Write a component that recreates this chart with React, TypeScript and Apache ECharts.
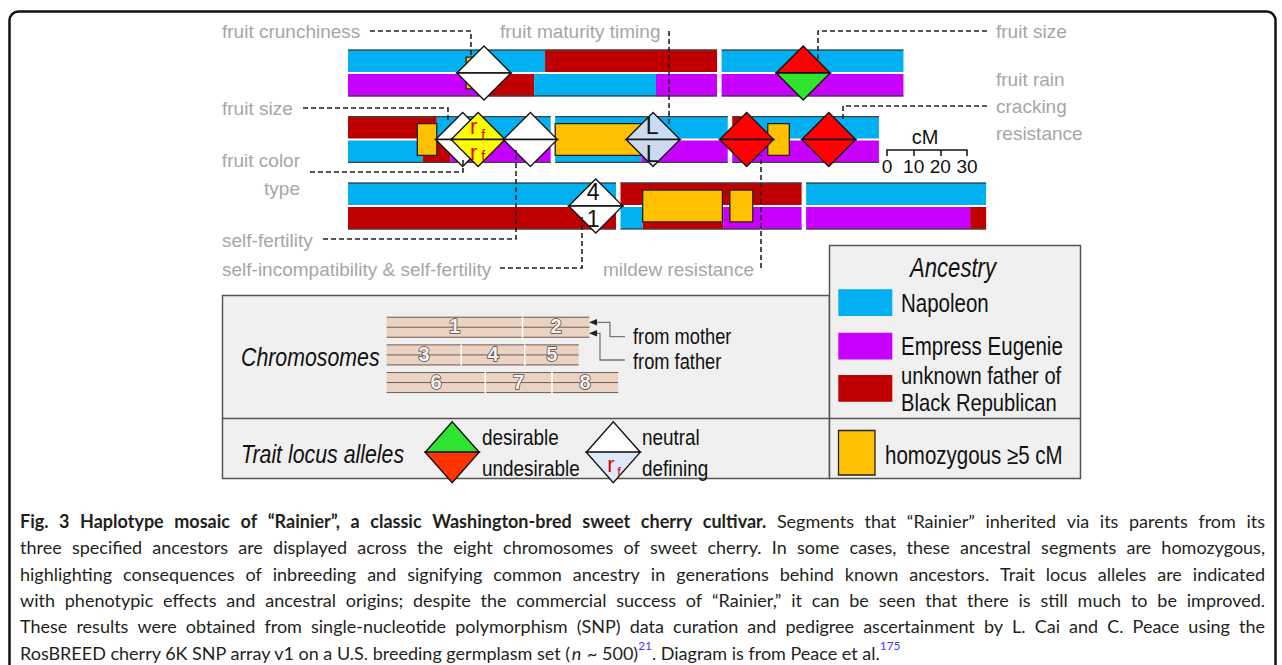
import React, { useEffect, useRef } from 'react';
import * as echarts from 'echarts';

// ---------------- data ----------------
const chromosomes = ['1', '2', '3', '4', '5', '6', '7', '8'];
const chromosomeLengthsCM = [138.4, 68.2, 76.0, 64.7, 55.0, 100.5, 67.9, 67.5];
const chromosomeRow = [0, 0, 1, 1, 1, 2, 2, 2];

const ancestors = ['Napoleon', 'Empress Eugenie', 'unknown father of Black Republican'];

// [chromosome index, start cM, end cM, ancestor index]
const motherSegments = [
  [0, 0, 73.9, 0], [0, 73.9, 138.4, 2],
  [1, 0, 68.2, 0],
  [2, 0, 33.3, 2], [2, 33.3, 76.0, 0],
  [3, 0, 64.7, 0],
  [4, 0, 3.5, 2], [4, 3.5, 55.0, 0],
  [5, 0, 100.5, 0],
  [6, 0, 67.9, 2],
  [7, 0, 67.5, 0],
];
const fatherSegments = [
  [0, 0, 50.3, 1], [0, 50.3, 69.8, 2], [0, 69.8, 115.5, 0], [0, 115.5, 138.4, 1],
  [1, 0, 68.2, 1],
  [2, 0, 28.0, 0], [2, 28.0, 38.3, 2], [2, 38.3, 76.0, 1],
  [3, 0, 32.3, 0], [3, 32.3, 64.7, 1],
  [4, 0, 55.0, 1],
  [5, 0, 100.5, 2],
  [6, 0, 8.3, 0], [6, 8.3, 38.5, 2], [6, 38.5, 67.9, 1],
  [7, 0, 61.5, 1], [7, 61.5, 67.5, 2],
];
// [chromosome index, start cM, end cM]
const homozygousBlocks = [
  [0, 44.3, 49.1], [2, 26.0, 33.3], [3, 0, 33.0], [4, 13.3, 21.4], [6, 8.3, 38.2], [6, 41.0, 49.6],
];
const lociChromosome = [0, 1, 2, 2, 2, 3, 4, 4, 5];
const lociPositionCM = [51.0, 30.6, 43.0, 48.8, 68.4, 36.7, 5.4, 36.2, 92.9];
const lociTrait = [
  'fruit crunchiness', 'fruit size', 'fruit size', 'fruit color type', 'self-fertility',
  'fruit maturity timing', 'mildew resistance', 'fruit rain cracking resistance',
  'self-incompatibility & self-fertility',
];
const lociMotherAllele = ['neutral', 'undesirable', 'neutral', 'rf', 'neutral', 'L', 'undesirable', 'undesirable', '4'];
const lociFatherAllele = ['neutral', 'desirable', 'neutral', 'rf', 'neutral', 'L', 'undesirable', 'undesirable', '1'];
const scaleTicksCM = [0, 10, 20, 30];

const captionBold = 'Fig. 3 Haplotype mosaic of \u201cRainier\u201d, a classic Washington-bred sweet cherry cultivar.';
const captionFirst = 'Segments that \u201cRainier\u201d inherited via its parents from its';
const captionLines = [
  'three specified ancestors are displayed across the eight chromosomes of sweet cherry. In some cases, these ancestral segments are homozygous,',
  'highlighting consequences of inbreeding and signifying common ancestry in generations behind known ancestors. Trait locus alleles are indicated',
  'with phenotypic effects and ancestral origins; despite the commercial success of \u201cRainier,\u201d it can be seen that there is still much to be improved.',
  'These results were obtained from single-nucleotide polymorphism (SNP) data curation and pedigree ascertainment by L. Cai and C. Peace using the',
];
const captionLast = [
  ['RosBREED cherry 6K SNP array v1 on a U.S. breeding germplasm set (', 'n'],
  ['n', 'i'],
  [' ~ 500)', 'n'],
  ['21', 's'],
  ['. Diagram is from Peace et al.', 'n'],
  ['175', 's'],
];

// ---------------- styles ----------------
const ANC_COLORS = ['#00b0f0', '#c800ff', '#c00000'];
const HOMO_COLOR = '#ffc000';
const ALLELE_FILL: any = {
  neutral: '#ffffff', desirable: '#2fe42f', undesirable: '#ff0000', rf: '#ffff00', L: '#c9daf2', '4': '#ffffff', '1': '#ffffff',
};
const SANS = '"Liberation Sans", Arial, sans-serif';
const NX = 0.82; // horizontal condensation for the legend's narrow face
const GRAY = '#a6a6a6';
const GAP_CM = 1.7;
const HALF = 27;

function rowOffsets(gap: number) {
  const out: number[] = [];
  const acc = [0, 0, 0];
  chromosomeLengthsCM.forEach((len, i) => {
    const r = chromosomeRow[i];
    out.push(acc[r]);
    acc[r] += len + gap;
  });
  return out;
}

const T = (text: string, x: number, y: number, font: string, fill = '#111', align = 'left', z = 20, sx = 1) => ({
  type: 'text', z, silent: true, x, y, scaleX: sx,
  style: { text, x: 0, y: 0, font, fill, align, textAlign: align, verticalAlign: 'middle', textVerticalAlign: 'middle' },
});
const PL = (points: number[][], style: any, z = 15) => ({
  type: 'polyline', z, silent: true, shape: { points }, style: { fill: null, ...style },
});
const tri = (cx: number, cy: number, hw: number, hh: number, dir: number, fill: string, z = 5) => ({
  type: 'polygon', z, silent: true,
  shape: { points: [[cx - hw, cy], [cx, cy + dir * hh], [cx + hw, cy]] },
  style: { fill, stroke: '#111', lineWidth: 1.3 },
});

function alleleTexts(allele: string, cx: number, cy: number, dir: number): any[] {
  const mk = (text: string, x: number, y: number, font: string, fill: string) => ({
    type: 'text',
    style: { text, x, y, font, fill, align: 'center', textAlign: 'center', verticalAlign: 'middle', textVerticalAlign: 'middle' },
  });
  if (allele === 'rf') {
    return [
      mk('r', cx - 4.5, dir < 0 ? cy - 12.6 : cy + 12.6, `22px ${SANS}`, '#e00000'),
      mk('f', cx + 5, dir < 0 ? cy - 5 : cy + 16.5, `14px ${SANS}`, '#e00000'),
    ];
  }
  if (allele === 'L') return [mk('L', cx - 1, dir < 0 ? cy - 14 : cy + 14, `23px ${SANS}`, '#111')];
  if (allele === '4' || allele === '1') return [mk(allele, cx - 2.5, dir < 0 ? cy - 13.8 : cy + 13, `23px ${SANS}`, '#111')];
  return [];
}

function buildCaption(): any[] {
  const out: any[] = [];
  const ctx = document.createElement('canvas').getContext('2d')!;
  const FAM = 'Lato, "Open Sans", sans-serif';
  const measure = (t: string, f: string) => { ctx.font = f; return ctx.measureText(t).width; };
  const LEFT = 20, RIGHT = 1265, W = RIGHT - LEFT;
  const reg = (s: number) => `${s}px ${FAM}`;
  const bold = (s: number) => `bold ${s}px ${FAM}`;
  const lines: { t: string; b: boolean }[][] = [];
  lines.push([
    ...captionBold.split(' ').map((t) => ({ t, b: true })),
    ...captionFirst.split(' ').map((t) => ({ t, b: false })),
  ]);
  captionLines.forEach((l) => lines.push(l.split(' ').map((t) => ({ t, b: false }))));
  let fs = 18;
  const natural = (line: any[], s: number) =>
    line.reduce((a, w) => a + measure(w.t, w.b ? bold(s) : reg(s)), 0) + (line.length - 1) * measure(' ', reg(s));
  lines.forEach((l) => {
    const n = natural(l, 18);
    if (n > W - 10) fs = Math.min(fs, (18 * (W - 10)) / n);
  });
  const y0 = 521, dy = 26.3;
  lines.forEach((line, i) => {
    const y = y0 + i * dy;
    const widths = line.map((w) => measure(w.t, w.b ? bold(fs) : reg(fs)));
    const sum = widths.reduce((a, b) => a + b, 0);
    const gap = (W - sum) / (line.length - 1);
    let x = LEFT;
    line.forEach((w, j) => {
      out.push(T(w.t, x, y, w.b ? bold(fs) : reg(fs), '#231f20', 'left', 20));
      x += widths[j] + gap;
    });
  });
  const y = y0 + 5 * dy;
  let x = LEFT;
  captionLast.forEach(([t, k]) => {
    let font = reg(fs);
    let yy = y;
    let fill = '#231f20';
    if (k === 'i') font = `italic ${fs}px ${FAM}`;
    if (k === 's') { font = `${fs * 0.66}px ${FAM}`; yy = y - fs * 0.38; fill = '#3d3dff'; }
    out.push(T(t, x, yy, font, fill, 'left', 20));
    x += measure(t, font) + (k === 'i' ? 1 : 0);
  });
  return out;
}

function buildGraphic(): any[] {
  const g: any[] = [];
  // outer frame
  g.push({ type: 'rect', z: 1, silent: true, shape: { x: 9.5, y: 11.5, width: 1266, height: 720, r: 9 }, style: { fill: null, stroke: '#111', lineWidth: 2.5 } });
  // legend boxes
  g.push({ type: 'rect', z: 0, silent: true, shape: { x: 222.5, y: 295.5, width: 607, height: 183 }, style: { fill: '#f0f0f0', stroke: '#555', lineWidth: 1.5 } });
  g.push({ type: 'rect', z: 0, silent: true, shape: { x: 829.5, y: 245.5, width: 251, height: 233 }, style: { fill: '#f0f0f0', stroke: '#555', lineWidth: 1.5 } });
  g.push({ type: 'line', z: 1, silent: true, shape: { x1: 222.5, y1: 418.5, x2: 1080.5, y2: 418.5 }, style: { stroke: '#555', lineWidth: 1.5 } });

  // trait labels
  const labels: [string, number, number, string][] = [
    ['fruit crunchiness', 222, 31, 'left'],
    ['fruit maturity timing', 500, 31.5, 'left'],
    ['fruit size', 996, 31, 'left'],
    ['fruit rain', 996, 79.5, 'left'],
    ['cracking', 996, 106, 'left'],
    ['resistance', 996, 133, 'left'],
    ['fruit size', 222, 108.5, 'left'],
    ['fruit color', 300, 160, 'right'],
    ['type', 300, 188, 'right'],
    ['self-fertility', 222, 240, 'left'],
    ['self-incompatibility & self-fertility', 222, 269.5, 'left'],
    ['mildew resistance', 603, 269, 'left'],
  ];
  labels.forEach(([t, x, y, a]) => g.push(T(t, x, y, `19px ${SANS}`, GRAY, a)));

  // leader lines
  const dash = { stroke: '#222', lineWidth: 1.6, lineDash: [5, 3] };
  const leaders = [
    [[370, 31], [471, 31], [471, 55]],
    [[669, 31], [669, 126]],
    [[987, 31], [818, 31], [818, 60]],
    [[987, 106], [843, 106], [843, 120]],
    [[303, 108], [448, 108], [448, 120]],
    [[310, 172], [463, 172], [463, 158]],
    [[323, 239], [516, 239], [516, 150]],
    [[500, 268], [582, 268], [582, 215]],
    [[761, 268], [761, 155]],
  ];
  leaders.forEach((p) => g.push(PL(p, dash, 15)));

  // scale
  g.push(T('cM', 925, 137, `20px ${SANS}`, '#111', 'center'));

  // Chromosomes legend
  g.push(T('Chromosomes', 241, 357, `italic 26px ${SANS}`, '#111', 'left', 20, NX));
  g.push({ type: 'polygon', z: 6, silent: true, shape: { points: [[589, 322.3], [597, 319], [597, 325.6]] }, style: { fill: '#222' } });
  g.push({ type: 'polygon', z: 6, silent: true, shape: { points: [[589, 333.3], [597, 330], [597, 336.6]] }, style: { fill: '#222' } });
  g.push(PL([[596, 322.3], [610, 322.3], [610, 336.7], [625, 336.7]], { stroke: '#777', lineWidth: 1.3 }, 5));
  g.push(PL([[596, 333.3], [600, 333.3], [600, 360], [625, 360]], { stroke: '#777', lineWidth: 1.3 }, 5));
  g.push(T('from mother', 633, 336.3, `21.5px ${SANS}`, '#111', 'left', 20, 0.85));
  g.push(T('from father', 633, 361.5, `21.5px ${SANS}`, '#111', 'left', 20, 0.85));

  // Trait locus alleles legend
  g.push(T('Trait locus alleles', 241, 454, `italic 26px ${SANS}`, '#111', 'left', 20, NX));
  g.push(tri(452.2, 452.2, 27, 30.5, -1, '#2fe42f', 6));
  g.push(tri(452.2, 452.2, 27, 30.5, 1, '#ff3300', 6));
  g.push(T('desirable', 482, 437, `22px ${SANS}`, '#111', 'left', 20, 0.86));
  g.push(T('undesirable', 482, 468, `22px ${SANS}`, '#111', 'left', 20, 0.86));
  g.push(tri(613.3, 452.2, 27, 30.5, -1, '#ffffff', 6));
  g.push(tri(613.3, 452.2, 27, 30.5, 1, '#dde8f8', 6));
  g.push(T('r', 611, 464.5, `22px ${SANS}`, '#e00000', 'center', 7));
  g.push(T('f', 619, 471.5, `13px ${SANS}`, '#e00000', 'center', 7));
  g.push(T('neutral', 642, 437, `22px ${SANS}`, '#111', 'left', 20, 0.86));
  g.push(T('defining', 642, 468, `22px ${SANS}`, '#111', 'left', 20, 0.86));

  // Ancestry legend
  g.push(T('Ancestry', 953, 268, `italic 27px ${SANS}`, '#111', 'center', 20, NX));
  const swY = [289.3, 332.7, 375];
  ancestors.forEach((name, i) => {
    g.push({ type: 'rect', z: 2, silent: true, shape: { x: 838.3, y: swY[i], width: 54, height: 26.7 }, style: { fill: ANC_COLORS[i] } });
  });
  const [anc3a, anc3b] = [ancestors[2].split(' Black')[0], 'Black' + ancestors[2].split(' Black')[1]];
  g.push(T(ancestors[0], 901, 303, `25px ${SANS}`, '#111', 'left', 20, NX));
  g.push(T(ancestors[1], 901, 346.5, `25px ${SANS}`, '#111', 'left', 20, NX));
  g.push(T(anc3a, 901, 376, `24px ${SANS}`, '#111', 'left', 20, 0.84));
  g.push(T(anc3b, 901, 403, `24px ${SANS}`, '#111', 'left', 20, 0.84));
  g.push({ type: 'rect', z: 2, silent: true, shape: { x: 838.5, y: 430.5, width: 36.5, height: 44.5 }, style: { fill: HOMO_COLOR, stroke: '#222', lineWidth: 1.3 } });
  g.push(T('homozygous \u22655 cM', 885, 455, `25px ${SANS}`, '#111', 'left', 20, NX));

  return g.concat(buildCaption());
}

function buildOption(): any {
  const mainOff = rowOffsets(GAP_CM);
  const miniOff = rowOffsets(0);
  const segData: number[][] = [];
  motherSegments.forEach(([c, s, e, a]) => segData.push([mainOff[c] + s, mainOff[c] + e, chromosomeRow[c], 0, a]));
  fatherSegments.forEach(([c, s, e, a]) => segData.push([mainOff[c] + s, mainOff[c] + e, chromosomeRow[c], 1, a]));
  const homoData = homozygousBlocks.map(([c, s, e]) => [mainOff[c] + s, mainOff[c] + e, chromosomeRow[c]]);
  const lociData = lociPositionCM.map((p, i) => [mainOff[lociChromosome[i]] + p, chromosomeRow[lociChromosome[i]], i]);
  const miniData = chromosomeLengthsCM.map((len, i) => [miniOff[i], miniOff[i] + len, chromosomeRow[i], i]);

  const renderSegment = (params: any, api: any) => {
    const row = api.value(2);
    const a = api.coord([api.value(0), row + 0.5]);
    const b = api.coord([api.value(1), row + 0.5]);
    const rowPx = api.size([0, 1])[1];
    const h = rowPx * 0.338;
    const cy = a[1];
    const strip = api.value(3);
    const y = strip === 0 ? cy - 1 - h : cy + 1;
    const edge = strip === 0 ? y + 0.6 : y + h - 0.6;
    return {
      type: 'group',
      children: [
        { type: 'rect', shape: { x: a[0], y, width: b[0] - a[0], height: h }, style: { fill: ANC_COLORS[api.value(4)] } },
        { type: 'line', shape: { x1: a[0], y1: edge, x2: b[0], y2: edge }, style: { stroke: '#404040', lineWidth: 1.2 } },
      ],
    };
  };
  const renderHomo = (params: any, api: any) => {
    const row = api.value(2);
    const a = api.coord([api.value(0), row + 0.5]);
    const b = api.coord([api.value(1), row + 0.5]);
    const half = api.size([0, 1])[1] * 0.24;
    return {
      type: 'rect',
      shape: { x: a[0], y: a[1] - half, width: b[0] - a[0], height: half * 2 },
      style: { fill: HOMO_COLOR, stroke: '#222', lineWidth: 1.3 },
    };
  };
  const renderLocus = (params: any, api: any) => {
    const idx = api.value(2);
    const [cx, cy] = api.coord([api.value(0), api.value(1) + 0.5]);
    const m = lociMotherAllele[idx];
    const f = lociFatherAllele[idx];
    const mk = (dir: number, allele: string) => ({
      type: 'polygon',
      shape: { points: [[cx - HALF, cy], [cx, cy + dir * HALF], [cx + HALF, cy]] },
      style: { fill: ALLELE_FILL[allele], stroke: '#111', lineWidth: 1.3 },
    });
    return {
      type: 'group',
      children: [mk(-1, m), mk(1, f), ...alleleTexts(m, cx, cy, -1), ...alleleTexts(f, cx, cy, 1)],
    };
  };
  const renderMini = (params: any, api: any) => {
    const row = api.value(2);
    const a = api.coord([api.value(0), row + 0.5]);
    const b = api.coord([api.value(1), row + 0.5]);
    const rowPx = api.size([0, 1])[1];
    const h = rowPx * 0.76;
    const cy = a[1];
    const top = cy - h / 2;
    const ln = (y: number) => ({ type: 'line', shape: { x1: a[0], y1: y, x2: b[0], y2: y }, style: { stroke: '#6e5e54', lineWidth: 1 } });
    const children: any[] = [
      { type: 'rect', shape: { x: a[0], y: top, width: b[0] - a[0], height: h }, style: { fill: '#ebd3c3' } },
      ln(top + 0.5), ln(cy), ln(top + h - 0.5),
    ];
    if (api.value(0) > 0) {
      children.push({ type: 'line', shape: { x1: a[0], y1: top, x2: a[0], y2: top + h }, style: { stroke: '#ffffff', lineWidth: 1.5 } });
    }
    children.push({
      type: 'text',
      style: {
        text: chromosomes[api.value(3)], x: (a[0] + b[0]) / 2, y: cy - 1, font: `bold 20px ${SANS}`,
        fill: '#f6f1ec', stroke: '#4a4a4a', lineWidth: 1.5,
        align: 'center', textAlign: 'center', verticalAlign: 'middle', textVerticalAlign: 'middle',
      },
    });
    return { type: 'group', children };
  };

  return {
    animation: false,
    backgroundColor: '#ffffff',
    grid: [
      { left: 348, top: 39.75, width: 640, height: 199.5 },
      { left: 386.7, top: 313.4, width: 235.5, height: 83 },
      { left: 887, top: 140, width: 80, height: 10 },
    ],
    xAxis: [
      { gridIndex: 0, type: 'value', min: 0, max: 240, show: false },
      { gridIndex: 1, type: 'value', min: 0, max: 240, show: false },
      {
        gridIndex: 2, type: 'value', min: 0, max: 30, interval: 10, position: 'bottom',
        axisLine: { show: true, lineStyle: { color: '#111', width: 1.5 } },
        axisTick: { show: true, length: 6, lineStyle: { color: '#111', width: 1.5 } },
        axisLabel: {
          show: true, margin: 7, color: '#111', fontSize: 19, fontFamily: SANS, showMinLabel: true, showMaxLabel: true,
          formatter: (v: number) => (scaleTicksCM.includes(v) ? String(v) : ''),
        },
        splitLine: { show: false },
      },
    ],
    yAxis: [
      { gridIndex: 0, type: 'value', min: 0, max: 3, inverse: true, show: false },
      { gridIndex: 1, type: 'value', min: 0, max: 3, inverse: true, show: false },
      { gridIndex: 2, type: 'value', min: 0, max: 1, show: false },
    ],
    series: [
      { type: 'custom', name: 'haplotypes', xAxisIndex: 0, yAxisIndex: 0, silent: true, encode: { x: [0, 1], y: 2 }, data: segData, renderItem: renderSegment },
      { type: 'custom', name: 'homozygous', xAxisIndex: 0, yAxisIndex: 0, silent: true, encode: { x: [0, 1], y: 2 }, data: homoData, renderItem: renderHomo },
      { type: 'custom', name: 'loci', xAxisIndex: 0, yAxisIndex: 0, silent: true, encode: { x: 0, y: 1 }, data: lociData, renderItem: renderLocus, z: 3 },
      { type: 'custom', name: 'chromosomes', xAxisIndex: 1, yAxisIndex: 1, silent: true, encode: { x: [0, 1], y: 2 }, data: miniData, renderItem: renderMini },
      { type: 'line', xAxisIndex: 2, yAxisIndex: 2, data: [], silent: true },
    ],
    graphic: { elements: buildGraphic() },
  };
}

export default function App() {
  const ref = useRef<HTMLDivElement>(null);
  useEffect(() => {
    const chart = echarts.init(ref.current!, undefined, { renderer: 'svg' });
    chart.setOption(buildOption());
    return () => chart.dispose();
  }, []);
  return (
    <div
      ref={ref}
      style={{ position: 'absolute', left: 0, top: 0, width: 1282, height: 665, background: '#ffffff' }}
      data-traits={lociTrait.length}
    />
  );
}
